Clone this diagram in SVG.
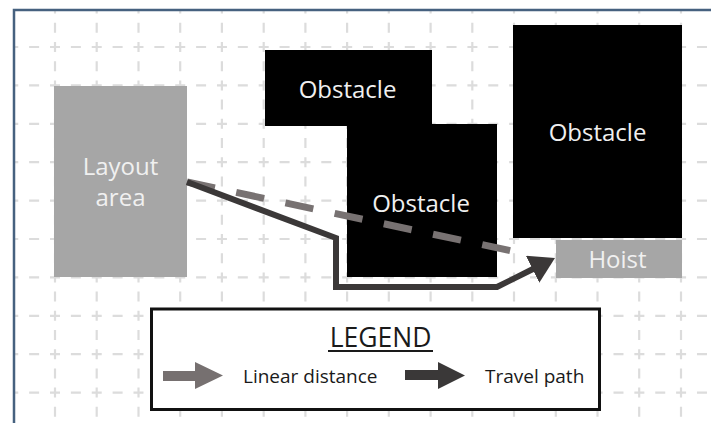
<svg xmlns="http://www.w3.org/2000/svg" width="711" height="423" viewBox="0 0 711 423">
<style>
text{font-family:"Open Sans","Noto Sans","DejaVu Sans",sans-serif}
.gh{stroke:#dcdcdc;stroke-width:2.2;fill:none;stroke-dasharray:10 10.87}
.gv{stroke:#dcdcdc;stroke-width:2.2;fill:none;stroke-dasharray:10 9.2}
.obs{fill:#000}
.gray{fill:#a6a6a6}
.wt{fill:#f0f0f0;font-size:24px;text-anchor:middle}
.lt{fill:#1a1a1a;font-size:19px}
</style>
<defs>
<clipPath id="frame"><rect x="15" y="11" width="700" height="420"/></clipPath>
<marker id="head" markerUnits="userSpaceOnUse" markerWidth="26" markerHeight="30" viewBox="0 0 26 30" refX="1" refY="15" orient="auto">
<path d="M0,0 L25,15 L0,30 Z" fill="#3b3838"/>
</marker>
</defs>
<rect width="711" height="423" fill="#fff"/>
<g id="grid" clip-path="url(#frame)">
<path class="gh" d="M8.26,47H720M8.26,85.4H720M8.26,123.8H720M8.26,162.2H720M8.26,200.6H720M8.26,239H720M8.26,277.4H720M8.26,315.8H720M8.26,354.2H720M8.26,392.6H720"/>
<path class="gv" d="M55,3.6V430M96.7,3.6V430M138.5,3.6V430M180.2,3.6V430M221.9,3.6V430M263.7,3.6V430M305.4,3.6V430M347.1,3.6V430M388.8,3.6V430M430.6,3.6V430M472.3,3.6V430M514,3.6V430M555.8,3.6V430M597.5,3.6V430M639.2,3.6V430M681,3.6V430"/>
</g>
<path id="frame-border" d="M14,430V10H720" fill="none" stroke="#46617f" stroke-width="2.5"/>
<g id="layout-area">
<rect class="gray" x="54" y="86" width="133" height="191"/>
<text class="wt" x="120.5" y="175">Layout</text>
<text class="wt" x="120.5" y="206">area</text>
</g>
<g id="obstacle-1">
<rect class="obs" x="265" y="50" width="167" height="76"/>
<text class="wt" x="347.5" y="98">Obstacle</text>
</g>
<g id="obstacle-2">
<rect class="obs" x="347" y="124" width="150" height="153"/>
<text class="wt" x="421" y="212">Obstacle</text>
</g>
<g id="obstacle-3">
<rect class="obs" x="513" y="25" width="169" height="213"/>
<text class="wt" x="597.5" y="141">Obstacle</text>
</g>
<g id="hoist">
<rect class="gray" x="556" y="240" width="126" height="38"/>
<text class="wt" x="617.5" y="268">Hoist</text>
</g>
<g id="connectors">
<path d="M187,182 L512,251" fill="none" stroke="#787272" stroke-width="7" stroke-dasharray="28.5 21.8"/>
<polyline points="187,182 336,238 336,287 497,287 533.5,268.8" fill="none" stroke="#3b3838" stroke-width="6" stroke-linejoin="miter" marker-end="url(#head)"/>
</g>
<g id="legend">
<rect x="151.5" y="309" width="448" height="100.5" fill="#fff" stroke="#111" stroke-width="3"/>
<text x="380.5" y="347" fill="#1a1a1a" font-size="26.5" text-anchor="middle">LEGEND</text>
<rect x="328" y="350" width="105" height="2" fill="#1a1a1a"/>
<path d="M163,371 H195 V362 L223,375.5 L195,389 V381 H163 Z" fill="#767070"/>
<text class="lt" x="243" y="383">Linear distance</text>
<path d="M405,370 H438 V362 L465,375.5 L438,389 V380 H405 Z" fill="#3a3838"/>
<text class="lt" x="485" y="383">Travel path</text>
</g>
</svg>
